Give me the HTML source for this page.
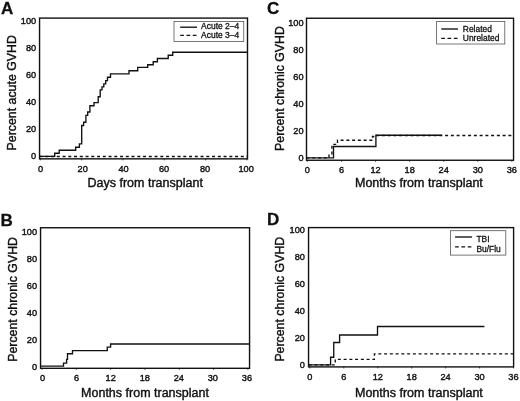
<!DOCTYPE html>
<html><head><meta charset="utf-8"><title>GVHD cumulative incidence</title>
<style>
html,body{margin:0;padding:0;background:#fff;}
body{width:520px;height:401px;overflow:hidden;}
svg{display:block;}
svg text{font-family:"Liberation Sans", Arial, Helvetica, sans-serif;fill:#111;stroke:#111;stroke-width:0.3px;stroke-linejoin:round;}
svg text.tk{stroke-width:0.4px;}
svg text.tt{stroke-width:0.4px;}
svg{filter:blur(0.3px);}
</style></head><body>
<svg width="520" height="401" viewBox="0 0 520 401">
<rect width="520" height="401" fill="#fff"/>
<text x="1.0" y="13.8" font-size="17" font-weight="bold">A</text>
<rect x="39.55" y="18.1" width="207.95" height="140.75" fill="none" stroke="#111" stroke-width="1.4"/>
<text x="36.2" y="159.30" font-size="9.2" class="tk" text-anchor="end">0</text>
<text x="36.2" y="132.22" font-size="9.2" class="tk" text-anchor="end">20</text>
<text x="36.2" y="105.14" font-size="9.2" class="tk" text-anchor="end">40</text>
<text x="36.2" y="78.06" font-size="9.2" class="tk" text-anchor="end">60</text>
<text x="36.2" y="50.98" font-size="9.2" class="tk" text-anchor="end">80</text>
<text x="36.2" y="23.90" font-size="9.2" class="tk" text-anchor="end">100</text>
<line x1="40.30" y1="158.85" x2="40.30" y2="160.35" stroke="#111" stroke-width="0.8"/>
<text x="40.60" y="171.6" font-size="9.2" class="tk" text-anchor="middle">0</text>
<line x1="81.62" y1="158.85" x2="81.62" y2="160.35" stroke="#111" stroke-width="0.8"/>
<text x="82.70" y="171.6" font-size="9.2" class="tk" text-anchor="middle">20</text>
<line x1="122.94" y1="158.85" x2="122.94" y2="160.35" stroke="#111" stroke-width="0.8"/>
<text x="123.60" y="171.6" font-size="9.2" class="tk" text-anchor="middle">40</text>
<line x1="164.26" y1="158.85" x2="164.26" y2="160.35" stroke="#111" stroke-width="0.8"/>
<text x="164.00" y="171.6" font-size="9.2" class="tk" text-anchor="middle">60</text>
<line x1="205.58" y1="158.85" x2="205.58" y2="160.35" stroke="#111" stroke-width="0.8"/>
<text x="205.10" y="171.6" font-size="9.2" class="tk" text-anchor="middle">80</text>
<line x1="246.90" y1="158.85" x2="246.90" y2="160.35" stroke="#111" stroke-width="0.8"/>
<text x="246.10" y="171.6" font-size="9.2" class="tk" text-anchor="middle">100</text>
<text transform="translate(15.9,92.8) rotate(-90)" font-size="12.35" class="tt" text-anchor="middle">Percent acute GVHD</text>
<text x="145.2" y="187.2" font-size="12.5" class="tt" text-anchor="middle">Days from transplant</text>
<path d="M39.55,156.30 L54.70,156.30 L54.70,153.20 L59.20,153.20 L59.20,150.20 L75.70,150.20 L75.70,147.20 L79.40,147.20 L79.40,143.90 L81.70,143.90 L81.70,125.50 L83.60,125.50 L83.60,122.20 L85.90,122.20 L85.90,115.40 L87.70,115.40 L87.70,112.00 L89.90,112.00 L89.90,105.70 L94.00,105.70 L94.00,102.60 L98.20,102.60 L98.20,96.70 L100.20,96.70 L100.20,89.90 L102.00,89.90 L102.00,86.90 L103.80,86.90 L103.80,83.90 L105.70,83.90 L105.70,80.60 L107.50,80.60 L107.50,77.20 L110.50,77.20 L110.50,73.90 L129.00,73.90 L129.00,70.70 L137.70,70.70 L137.70,67.40 L147.70,67.40 L147.70,64.70 L153.20,64.70 L153.20,61.75 L157.40,61.75 L157.40,58.50 L168.20,58.50 L168.20,55.20 L172.70,55.20 L172.70,52.20 L247.50,52.20 L247.50,52.20" fill="none" stroke="#111" stroke-width="1.35" stroke-linejoin="miter"/>
<path d="M39.55,156.50 L247.50,156.50" fill="none" stroke="#111" stroke-width="1.35" stroke-linejoin="miter" stroke-dasharray="3.0 2.75"/>
<rect x="174.0" y="21.5" width="69.75" height="19.90" fill="#fff" stroke="#555" stroke-width="0.8"/>
<line x1="180.2" y1="27.2" x2="197.0" y2="27.2" stroke="#111" stroke-width="1.35"/>
<text x="201.10" y="29.4" font-size="8.45">Acute 2–4</text>
<line x1="180.2" y1="35.4" x2="197.0" y2="35.4" stroke="#111" stroke-width="1.35" stroke-dasharray="3.7 2.6"/>
<text x="201.10" y="37.8" font-size="8.45">Acute 3–4</text>
<text x="0.5" y="226.2" font-size="17" font-weight="bold">B</text>
<rect x="40.55" y="227.75" width="209.00" height="140.55" fill="none" stroke="#111" stroke-width="1.4"/>
<text x="37.1" y="369.90" font-size="9.2" class="tk" text-anchor="end">0</text>
<text x="37.1" y="342.82" font-size="9.2" class="tk" text-anchor="end">20</text>
<text x="37.1" y="315.74" font-size="9.2" class="tk" text-anchor="end">40</text>
<text x="37.1" y="288.66" font-size="9.2" class="tk" text-anchor="end">60</text>
<text x="37.1" y="261.58" font-size="9.2" class="tk" text-anchor="end">80</text>
<text x="37.1" y="234.50" font-size="9.2" class="tk" text-anchor="end">100</text>
<line x1="42.00" y1="368.3" x2="42.00" y2="369.80" stroke="#111" stroke-width="0.8"/>
<text x="42.60" y="381.1" font-size="9.2" class="tk" text-anchor="middle">0</text>
<line x1="76.32" y1="368.3" x2="76.32" y2="369.80" stroke="#111" stroke-width="0.8"/>
<text x="76.66" y="381.1" font-size="9.2" class="tk" text-anchor="middle">6</text>
<line x1="110.64" y1="368.3" x2="110.64" y2="369.80" stroke="#111" stroke-width="0.8"/>
<text x="110.71" y="381.1" font-size="9.2" class="tk" text-anchor="middle">12</text>
<line x1="144.96" y1="368.3" x2="144.96" y2="369.80" stroke="#111" stroke-width="0.8"/>
<text x="144.77" y="381.1" font-size="9.2" class="tk" text-anchor="middle">18</text>
<line x1="179.28" y1="368.3" x2="179.28" y2="369.80" stroke="#111" stroke-width="0.8"/>
<text x="178.82" y="381.1" font-size="9.2" class="tk" text-anchor="middle">24</text>
<line x1="213.60" y1="368.3" x2="213.60" y2="369.80" stroke="#111" stroke-width="0.8"/>
<text x="212.88" y="381.1" font-size="9.2" class="tk" text-anchor="middle">30</text>
<line x1="247.92" y1="368.3" x2="247.92" y2="369.80" stroke="#111" stroke-width="0.8"/>
<text x="246.94" y="381.1" font-size="9.2" class="tk" text-anchor="middle">36</text>
<text transform="translate(16.7,299.4) rotate(-90)" font-size="12.35" class="tt" text-anchor="middle">Percent chronic GVHD</text>
<text x="145.0" y="397.4" font-size="12.5" class="tt" text-anchor="middle">Months from transplant</text>
<path d="M40.55,366.15 L63.50,366.15 L63.50,363.10 L66.60,363.10 L66.60,359.40 L67.50,359.40 L67.50,353.75 L72.50,353.75 L72.50,350.60 L107.25,350.60 L107.25,347.10 L110.60,347.10 L110.60,344.00 L249.00,344.00 L249.00,344.00" fill="none" stroke="#111" stroke-width="1.35" stroke-linejoin="miter"/>
<text x="267.0" y="14.2" font-size="17" font-weight="bold">C</text>
<rect x="306.5" y="18.25" width="207.05" height="142.00" fill="none" stroke="#111" stroke-width="1.4"/>
<text x="303.6" y="160.60" font-size="9.2" class="tk" text-anchor="end">0</text>
<text x="303.6" y="133.58" font-size="9.2" class="tk" text-anchor="end">20</text>
<text x="303.6" y="106.56" font-size="9.2" class="tk" text-anchor="end">40</text>
<text x="303.6" y="79.54" font-size="9.2" class="tk" text-anchor="end">60</text>
<text x="303.6" y="52.52" font-size="9.2" class="tk" text-anchor="end">80</text>
<text x="303.6" y="25.50" font-size="9.2" class="tk" text-anchor="end">100</text>
<line x1="307.40" y1="160.25" x2="307.40" y2="161.75" stroke="#111" stroke-width="0.8"/>
<text x="307.40" y="172.6" font-size="9.2" class="tk" text-anchor="middle">0</text>
<line x1="341.48" y1="160.25" x2="341.48" y2="161.75" stroke="#111" stroke-width="0.8"/>
<text x="341.48" y="172.6" font-size="9.2" class="tk" text-anchor="middle">6</text>
<line x1="375.56" y1="160.25" x2="375.56" y2="161.75" stroke="#111" stroke-width="0.8"/>
<text x="375.56" y="172.6" font-size="9.2" class="tk" text-anchor="middle">12</text>
<line x1="409.64" y1="160.25" x2="409.64" y2="161.75" stroke="#111" stroke-width="0.8"/>
<text x="409.64" y="172.6" font-size="9.2" class="tk" text-anchor="middle">18</text>
<line x1="443.72" y1="160.25" x2="443.72" y2="161.75" stroke="#111" stroke-width="0.8"/>
<text x="443.72" y="172.6" font-size="9.2" class="tk" text-anchor="middle">24</text>
<line x1="477.80" y1="160.25" x2="477.80" y2="161.75" stroke="#111" stroke-width="0.8"/>
<text x="477.80" y="172.6" font-size="9.2" class="tk" text-anchor="middle">30</text>
<line x1="511.88" y1="160.25" x2="511.88" y2="161.75" stroke="#111" stroke-width="0.8"/>
<text x="511.88" y="172.6" font-size="9.2" class="tk" text-anchor="middle">36</text>
<text transform="translate(284.1,88.5) rotate(-90)" font-size="12.35" class="tt" text-anchor="middle">Percent chronic GVHD</text>
<text x="418.9" y="187.2" font-size="12.5" class="tt" text-anchor="middle">Months from transplant</text>
<path d="M306.50,157.90 L329.00,157.90 L329.00,153.90 L331.90,153.90 L331.90,144.40 L337.50,144.40 L337.50,140.25 L372.50,140.25 L372.50,136.50 L375.90,136.50 L375.90,135.50 L511.50,135.50 L511.50,135.50" fill="none" stroke="#111" stroke-width="1.35" stroke-linejoin="miter" stroke-dasharray="3.0 2.75"/>
<path d="M306.50,157.90 L333.50,157.90 L333.50,146.50 L375.90,146.50 L375.90,135.20 L441.90,135.20 L441.90,135.20" fill="none" stroke="#111" stroke-width="1.35" stroke-linejoin="miter"/>
<rect x="436.6" y="21.5" width="68.20" height="22.50" fill="#fff" stroke="#555" stroke-width="0.8"/>
<line x1="441.25" y1="29.0" x2="458.0" y2="29.0" stroke="#111" stroke-width="1.35"/>
<text x="462.80" y="31.5" font-size="8.45">Related</text>
<line x1="441.25" y1="38.3" x2="458.0" y2="38.3" stroke="#111" stroke-width="1.35" stroke-dasharray="3.7 2.6"/>
<text x="462.80" y="40.7" font-size="8.45">Unrelated</text>
<text x="267.0" y="224.5" font-size="17" font-weight="bold">D</text>
<rect x="308.55" y="227.6" width="205.05" height="139.30" fill="none" stroke="#111" stroke-width="1.4"/>
<text x="304.9" y="368.40" font-size="9.2" class="tk" text-anchor="end">0</text>
<text x="304.9" y="341.34" font-size="9.2" class="tk" text-anchor="end">20</text>
<text x="304.9" y="314.28" font-size="9.2" class="tk" text-anchor="end">40</text>
<text x="304.9" y="287.22" font-size="9.2" class="tk" text-anchor="end">60</text>
<text x="304.9" y="260.16" font-size="9.2" class="tk" text-anchor="end">80</text>
<text x="304.9" y="233.10" font-size="9.2" class="tk" text-anchor="end">100</text>
<line x1="309.90" y1="366.9" x2="309.90" y2="368.40" stroke="#111" stroke-width="0.8"/>
<text x="309.90" y="379.6" font-size="9.2" class="tk" text-anchor="middle">0</text>
<line x1="343.83" y1="366.9" x2="343.83" y2="368.40" stroke="#111" stroke-width="0.8"/>
<text x="343.83" y="379.6" font-size="9.2" class="tk" text-anchor="middle">6</text>
<line x1="377.76" y1="366.9" x2="377.76" y2="368.40" stroke="#111" stroke-width="0.8"/>
<text x="377.76" y="379.6" font-size="9.2" class="tk" text-anchor="middle">12</text>
<line x1="411.69" y1="366.9" x2="411.69" y2="368.40" stroke="#111" stroke-width="0.8"/>
<text x="411.69" y="379.6" font-size="9.2" class="tk" text-anchor="middle">18</text>
<line x1="445.62" y1="366.9" x2="445.62" y2="368.40" stroke="#111" stroke-width="0.8"/>
<text x="445.62" y="379.6" font-size="9.2" class="tk" text-anchor="middle">24</text>
<line x1="479.55" y1="366.9" x2="479.55" y2="368.40" stroke="#111" stroke-width="0.8"/>
<text x="479.55" y="379.6" font-size="9.2" class="tk" text-anchor="middle">30</text>
<line x1="513.48" y1="366.9" x2="513.48" y2="368.40" stroke="#111" stroke-width="0.8"/>
<text x="513.48" y="379.6" font-size="9.2" class="tk" text-anchor="middle">36</text>
<text transform="translate(284.1,299.2) rotate(-90)" font-size="12.35" class="tt" text-anchor="middle">Percent chronic GVHD</text>
<text x="418.9" y="397.2" font-size="12.5" class="tt" text-anchor="middle">Months from transplant</text>
<path d="M308.75,364.80 L335.25,364.80 L335.25,359.40 L374.40,359.40 L374.40,353.90 L513.00,353.90 L513.00,353.90" fill="none" stroke="#111" stroke-width="1.35" stroke-linejoin="miter" stroke-dasharray="3.0 2.75"/>
<path d="M308.75,364.80 L330.60,364.80 L330.60,357.25 L333.75,357.25 L333.75,342.50 L339.60,342.50 L339.60,335.00 L377.50,335.00 L377.50,326.50 L484.40,326.50 L484.40,326.50" fill="none" stroke="#111" stroke-width="1.35" stroke-linejoin="miter"/>
<rect x="450.4" y="230.7" width="55.40" height="24.40" fill="#fff" stroke="#555" stroke-width="0.8"/>
<line x1="455.1" y1="237.0" x2="472.0" y2="237.0" stroke="#111" stroke-width="1.35"/>
<text x="476.40" y="241.7" font-size="8.45">TBI</text>
<line x1="455.1" y1="246.8" x2="472.0" y2="246.8" stroke="#111" stroke-width="1.35" stroke-dasharray="3.7 2.6"/>
<text x="476.40" y="251.6" font-size="8.45">Bu/Flu</text>
</svg>
</body></html>
